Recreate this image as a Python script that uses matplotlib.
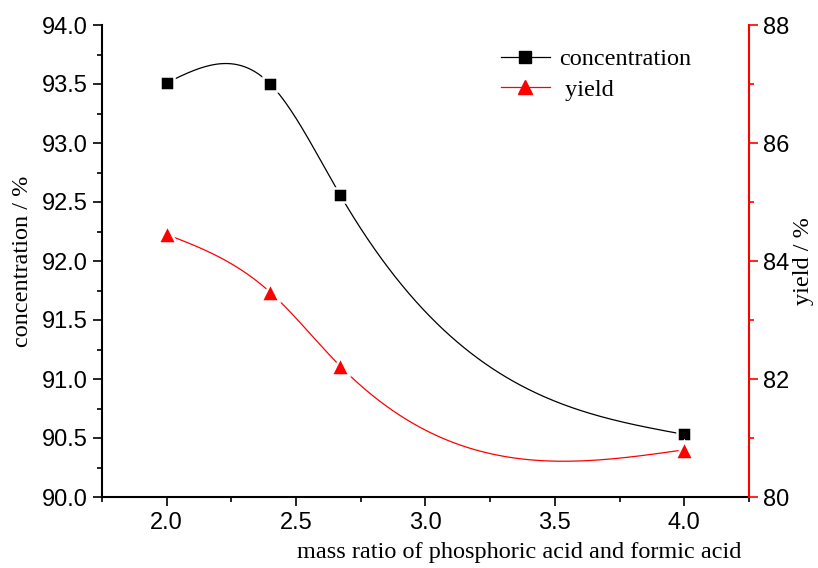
import numpy as np
import matplotlib.pyplot as plt
from matplotlib.ticker import MultipleLocator

# mass ratio of phosphoric acid / formic acid
ratio = [2.0, 2.4, 2.67, 4.0]
concentration = [93.51, 93.50, 92.56, 90.53]
yield_pct = [84.45, 83.47, 82.22, 80.80]


def natural_spline(x, y, n=300):
    # natural cubic spline, only used to draw the smooth line between points
    x = np.asarray(x, float)
    y = np.asarray(y, float)
    k = len(x)
    h = np.diff(x)
    A = np.zeros((k, k))
    b = np.zeros(k)
    A[0, 0] = A[-1, -1] = 1
    for i in range(1, k - 1):
        A[i, i - 1] = h[i - 1]
        A[i, i] = 2 * (h[i - 1] + h[i])
        A[i, i + 1] = h[i]
        b[i] = 6 * ((y[i + 1] - y[i]) / h[i] - (y[i] - y[i - 1]) / h[i - 1])
    M = np.linalg.solve(A, b)
    xs = np.linspace(x[0], x[-1], n)
    idx = np.clip(np.searchsorted(x, xs) - 1, 0, k - 2)
    x0, x1 = x[idx], x[idx + 1]
    hh = x1 - x0
    ys = (M[idx] * (x1 - xs) ** 3 / (6 * hh) + M[idx + 1] * (xs - x0) ** 3 / (6 * hh)
          + (y[idx] / hh - M[idx] * hh / 6) * (x1 - xs)
          + (y[idx + 1] / hh - M[idx + 1] * hh / 6) * (xs - x0))
    return xs, ys


serif = 'Liberation Serif'
sans = 'Liberation Sans'
tick_fs = 17
label_fs = 17.5

fig = plt.figure(figsize=(8.18, 5.68), dpi=100)
ax = fig.add_axes([102 / 818, 1 - 497 / 568, (749 - 102) / 818, (497 - 25) / 568])
ax2 = ax.twinx()

xs, ys = natural_spline(ratio, concentration)
ax.plot(xs, ys, color='black', linewidth=0.9, zorder=2)
ax.plot(ratio, concentration, linestyle='none', marker='s', markersize=10,
        color='black', markeredgecolor='white', markeredgewidth=1.8, zorder=3)

xs, ys = natural_spline(ratio, yield_pct)
ax2.plot(xs, ys, color='red', linewidth=0.9, zorder=2)
ax2.plot(ratio, yield_pct, linestyle='none', marker='^', markersize=13,
         color='red', markeredgecolor='white', markeredgewidth=1.8, zorder=3)

ax.set_xlim(1.75, 4.25)
ax.set_ylim(90.0, 94.0)
ax2.set_ylim(80, 88)

ax.xaxis.set_major_locator(MultipleLocator(0.5))
ax.xaxis.set_minor_locator(MultipleLocator(0.25))
ax.yaxis.set_major_locator(MultipleLocator(0.5))
ax.yaxis.set_minor_locator(MultipleLocator(0.25))
ax2.yaxis.set_major_locator(MultipleLocator(2))
ax2.yaxis.set_minor_locator(MultipleLocator(1))

for a in (ax, ax2):
    a.spines['top'].set_visible(False)
ax.spines['right'].set_visible(False)
ax2.spines['left'].set_visible(False)
ax2.spines['bottom'].set_visible(False)
ax2.spines['right'].set_color('red')
ax2.spines['right'].set_linewidth(1.5)
ax.spines['left'].set_linewidth(1.5)
ax.spines['bottom'].set_linewidth(1.5)

ax.tick_params(which='major', direction='out', length=6.5, width=1.2, labelsize=tick_fs, pad=4)
ax.tick_params(which='minor', direction='out', length=3.5, width=1.2)
ax2.tick_params(which='major', direction='out', length=6.5, width=1.2, color='red', labelsize=tick_fs)
ax2.tick_params(which='minor', direction='out', length=3.5, width=1.2, color='red')
for lab in ax.get_xticklabels() + ax.get_yticklabels() + ax2.get_yticklabels():
    lab.set_fontfamily(sans)

ax.set_xticks([2.0, 2.5, 3.0, 3.5, 4.0])
ax.set_xticklabels(['2.0', '2.5', '3.0', '3.5', '4.0'], fontfamily=sans, fontsize=tick_fs)

ax.set_xlabel('mass ratio of phosphoric acid and formic acid', fontfamily=serif,
              fontsize=label_fs, x=0.645, labelpad=6)
ax.set_ylabel('concentration / %', fontfamily=serif, fontsize=label_fs, labelpad=6)
ax2.set_ylabel('yield / %', fontfamily=serif, fontsize=label_fs, labelpad=3)

# legend
h1 = plt.Line2D([], [], color='black', linewidth=0.9, marker='s', markersize=8)
h2 = plt.Line2D([], [], color='red', linewidth=0.9, marker='^', markersize=10)
ax.legend([h1, h2], ['concentration', ' yield'], loc='upper left',
          bbox_to_anchor=(0.583, 0.997), frameon=False, handlelength=2.0,
          handletextpad=0.4, labelspacing=0.35, prop={'family': serif, 'size': label_fs})

fig.savefig('out.png', dpi=100)
